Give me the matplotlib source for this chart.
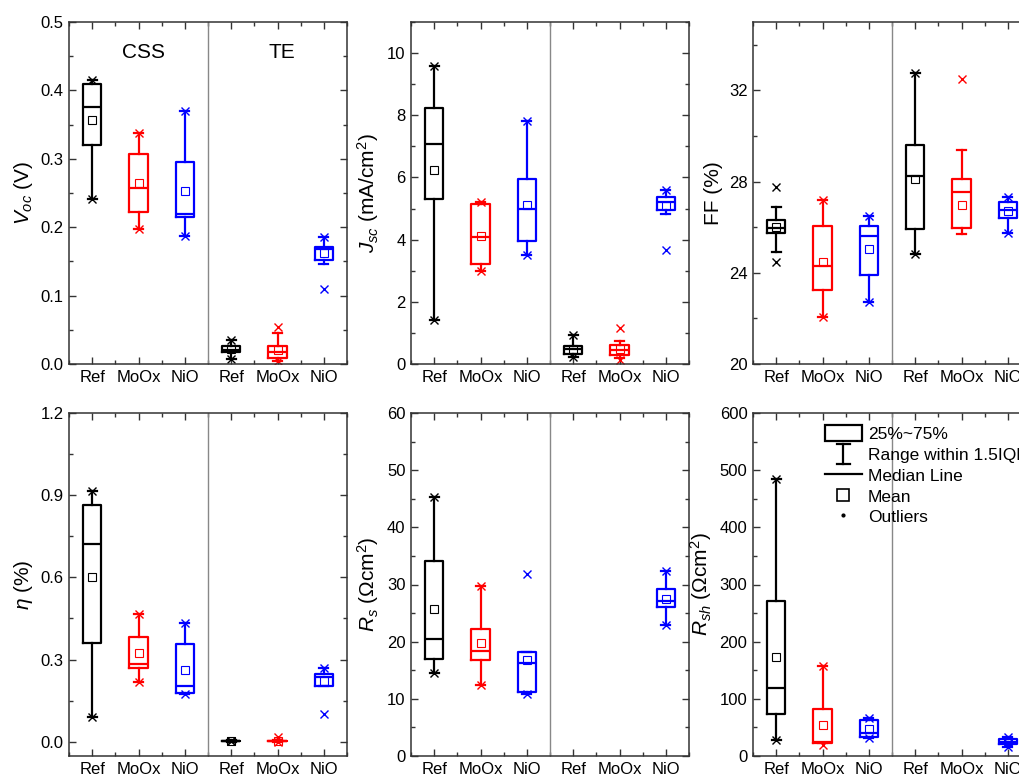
import matplotlib
matplotlib.use('Agg')
import matplotlib.pyplot as plt
from matplotlib.patches import Patch
from matplotlib.lines import Line2D
from matplotlib.legend_handler import HandlerBase
from matplotlib.ticker import MultipleLocator

plt.rcParams['font.family'] = ['Liberation Sans', 'DejaVu Sans']
plt.rcParams['mathtext.fontset'] = 'custom'
plt.rcParams['mathtext.rm'] = 'Liberation Sans'
plt.rcParams['mathtext.it'] = 'Liberation Sans:italic'
plt.rcParams['mathtext.bf'] = 'Liberation Sans:bold'

groups = ['Ref', 'MoOx', 'NiO', 'Ref', 'MoOx', 'NiO']
colors = ['#000000', '#ff0000', '#0000ff', '#000000', '#ff0000', '#0000ff']

# Voc (V)
voc_q1 = [0.320, 0.222, 0.215, 0.017, 0.009, 0.152]
voc_med = [0.376, 0.258, 0.220, 0.021, 0.018, 0.168]
voc_q3 = [0.409, 0.307, 0.295, 0.026, 0.026, 0.171]
voc_mean = [0.356, 0.265, 0.253, 0.022, 0.021, 0.162]
voc_lo = [0.241, 0.197, 0.187, 0.008, 0.005, 0.146]
voc_hi = [0.415, 0.338, 0.370, 0.035, 0.046, 0.186]
voc_x = [[0.241, 0.415], [0.197, 0.338], [0.187, 0.370], [0.008, 0.035], [0.005, 0.054], [0.110, 0.185]]

# Jsc (mA/cm2)
jsc_q1 = [5.32, 3.21, 3.96, 0.32, 0.29, 4.95]
jsc_med = [7.09, 4.09, 4.99, 0.47, 0.45, 5.20]
jsc_q3 = [8.24, 5.14, 5.95, 0.58, 0.62, 5.36]
jsc_mean = [6.25, 4.13, 5.11, 0.47, 0.47, 5.09]
jsc_lo = [1.43, 3.00, 3.49, 0.24, 0.18, 4.84]
jsc_hi = [9.60, 5.22, 7.82, 0.93, 0.75, 5.61]
jsc_x = [[1.43, 9.60], [3.00, 5.22], [3.49, 7.82], [0.24, 0.93], [0.13, 1.15], [3.66, 5.61]]

# FF (%)
ff_q1 = [25.75, 23.23, 23.90, 25.94, 25.96, 26.39]
ff_med = [25.98, 24.30, 25.63, 28.26, 27.56, 26.75]
ff_q3 = [26.33, 26.05, 26.07, 29.59, 28.13, 27.11]
ff_mean = [26.01, 24.49, 25.06, 28.13, 26.99, 26.73]
ff_lo = [24.91, 22.08, 22.73, 24.82, 25.70, 25.73]
ff_hi = [26.87, 27.19, 26.51, 32.78, 29.40, 27.31]
ff_x = [[24.47, 27.75], [22.08, 27.19], [22.73, 26.51], [24.82, 32.78], [32.51], [25.73, 27.31]]

# eta (%)
eta_q1 = [0.359, 0.268, 0.179, 0.001, 0.001, 0.203]
eta_med = [0.721, 0.284, 0.205, 0.002, 0.002, 0.235]
eta_q3 = [0.864, 0.384, 0.357, 0.004, 0.004, 0.246]
eta_mean = [0.601, 0.323, 0.262, 0.003, 0.003, 0.222]
eta_lo = [0.089, 0.217, 0.174, 0.000, 0.000, 0.203]
eta_hi = [0.917, 0.467, 0.435, 0.006, 0.008, 0.268]
eta_x = [[0.089, 0.917], [0.217, 0.467], [0.174, 0.435], [0.001, 0.004], [0.000, 0.016], [0.101, 0.268]]

# Rs (Ohm cm2)
rs_q1 = [16.99, 16.81, 11.15, None, None, 26.15]
rs_med = [20.55, 18.45, 16.35, None, None, 27.03]
rs_q3 = [34.15, 22.18, 18.21, None, None, 29.19]
rs_mean = [25.69, 19.73, 16.81, None, None, 27.44]
rs_lo = [14.48, 12.43, 10.86, None, None, 22.83]
rs_hi = [45.30, 29.77, 18.21, None, None, 32.40]
rs_x = [[14.48, 45.30], [12.43, 29.77], [10.86, 31.82], [], [], [22.83, 32.40]]

# Rsh (Ohm cm2)
rsh_q1 = [73.7, 23.4, 32.7, None, None, 21.1]
rsh_med = [118.7, 25.1, 40.9, None, None, 25.1]
rsh_q3 = [270.8, 81.9, 63.2, None, None, 29.8]
rsh_mean = [172.5, 55.0, 47.4, None, None, 25.5]
rsh_lo = [28.1, 22.2, 31.0, None, None, 16.4]
rsh_hi = [485.4, 157.9, 67.3, None, None, 32.7]
rsh_x = [[28.1, 485.4], [19.3, 157.9], [31.0, 67.3], [], [], [16.4, 32.7]]


def panel(ax, q1, med, q3, mean, lo, hi, xs, ylim, major, ylabel):
    for i in range(len(groups)):
        if q1[i] is None:
            continue
        c = colors[i]
        st = dict(q1=q1[i], med=med[i], q3=q3[i], mean=mean[i],
                  whislo=lo[i], whishi=hi[i], fliers=xs[i])
        ax.bxp([st], positions=[i + 1], widths=0.4, showmeans=True,
               manage_ticks=False,
               boxprops=dict(color=c, lw=1.6),
               whiskerprops=dict(color=c, lw=1.6),
               capprops=dict(color=c, lw=1.6),
               medianprops=dict(color=c, lw=1.6),
               meanprops=dict(marker='s', mfc='none', mec=c, ms=5.5, mew=0.8),
               flierprops=dict(marker='x', mfc='none', mec=c, ms=6, mew=1.0))
    ax.axvline(3.5, color='#888888', lw=1)
    ax.set_xlim(0.5, 6.5)
    ax.set_ylim(*ylim)
    ax.set_xticks(range(1, 7))
    ax.set_xticklabels(groups)
    ax.xaxis.set_minor_locator(MultipleLocator(0.5))
    ax.yaxis.set_major_locator(MultipleLocator(major))
    ax.yaxis.set_minor_locator(MultipleLocator(major / 2))
    ax.tick_params(which='both', direction='in', top=True, right=True,
                   labelsize=12, color='#333333', width=1)
    ax.tick_params(which='major', length=5, pad=4)
    ax.tick_params(which='minor', length=3)
    for s in ax.spines.values():
        s.set_color('#333333')
        s.set_linewidth(1.1)
    ax.set_ylabel(ylabel, fontsize=15, labelpad=4)


class WhiskerHandler(HandlerBase):
    def create_artists(self, legend, orig_handle, xd, yd, width, height, fontsize, trans):
        cx = width / 2 - xd
        y0 = -yd - 0.1 * height
        y1 = -yd + 1.1 * height
        hw = 0.17 * width
        kw = dict(color='k', lw=1.6, transform=trans)
        return [Line2D([cx, cx], [y0, y1], **kw),
                Line2D([cx - hw, cx + hw], [y0, y0], **kw),
                Line2D([cx - hw, cx + hw], [y1, y1], **kw)]


fig = plt.figure(figsize=(10.19, 7.76), dpi=100)
W, H = 1019, 776
lefts = [69, 411, 753]
aw = 278
top_row = (22, 364)
bot_row = (413, 756)


def make_ax(col, row):
    t, b = row
    return fig.add_axes([lefts[col] / W, (H - b) / H, aw / W, (b - t) / H])


ax1 = make_ax(0, top_row)
panel(ax1, voc_q1, voc_med, voc_q3, voc_mean, voc_lo, voc_hi, voc_x, (0, 0.5), 0.1, r'$V_{oc}$ (V)')
ax1.text(2.1, 0.456, 'CSS', fontsize=15, ha='center', va='center')
ax1.text(5.1, 0.456, 'TE', fontsize=15, ha='center', va='center')

ax2 = make_ax(1, top_row)
panel(ax2, jsc_q1, jsc_med, jsc_q3, jsc_mean, jsc_lo, jsc_hi, jsc_x, (0, 11), 2, r'$J_{sc}$ (mA/cm$^2$)')

ax3 = make_ax(2, top_row)
panel(ax3, ff_q1, ff_med, ff_q3, ff_mean, ff_lo, ff_hi, ff_x, (20, 35), 4, 'FF (%)')

ax4 = make_ax(0, bot_row)
panel(ax4, eta_q1, eta_med, eta_q3, eta_mean, eta_lo, eta_hi, eta_x, (-0.052, 1.2), 0.3, r'$\eta$ (%)')

ax5 = make_ax(1, bot_row)
panel(ax5, rs_q1, rs_med, rs_q3, rs_mean, rs_lo, rs_hi, rs_x, (0, 60), 10, r'$R_s$ ($\Omega$cm$^2$)')

ax6 = make_ax(2, bot_row)
panel(ax6, rsh_q1, rsh_med, rsh_q3, rsh_mean, rsh_lo, rsh_hi, rsh_x, (0, 600), 100, r'$R_{sh}$ ($\Omega$cm$^2$)')

whisk = Line2D([], [])
handles = [Patch(facecolor='none', edgecolor='k', lw=1.6),
           whisk,
           Line2D([], [], color='k', lw=1.6),
           Line2D([], [], marker='s', mfc='none', mec='k', ms=9, mew=1.2, ls='none'),
           Line2D([], [], marker='.', color='k', ms=4, ls='none')]
labels = ['25%~75%', 'Range within 1.5IQR', 'Median Line', 'Mean', 'Outliers']
ax6.legend(handles, labels, loc='upper left', bbox_to_anchor=(0.21, 1.005),
           frameon=False, fontsize=12.5, handlelength=2.1, handleheight=1.05,
           labelspacing=0.22, handletextpad=0.35, borderpad=0.3,
           handler_map={whisk: WhiskerHandler()})

fig.savefig('out.png', dpi=100)
